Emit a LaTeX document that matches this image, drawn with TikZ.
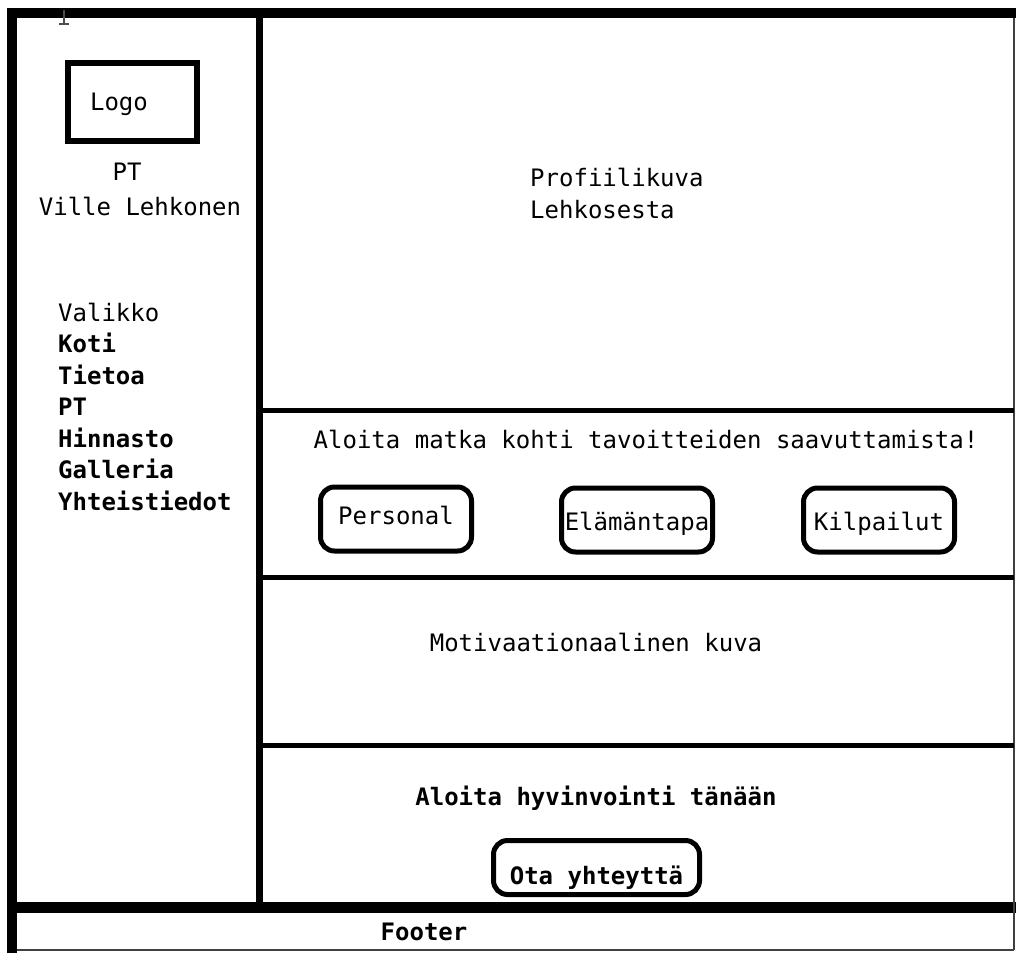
\documentclass[tikz,border=0pt]{standalone}
\usepackage{fontspec}
\setmainfont{DejaVu Sans Mono}
\newcommand{\sitefont}{\fontsize{24}{31.5}\selectfont}

\begin{document}
\begin{tikzpicture}[x=1pt, y=-1pt,
    every node/.style={font=\sitefont, inner sep=0pt, anchor=base},
    frame/.style={line width=10pt},
    thin frame/.style={line width=1.5pt, black!75},
    panel/.style={line width=5pt},
    logobox/.style={draw, line width=6pt, minimum width=129pt, minimum height=78pt, anchor=center},
    button/.style={draw, line width=5pt, rounded corners=14pt, minimum width=151pt,
      minimum height=64pt, anchor=center, text height=26pt, text depth=5pt},
    menuitem/.style={anchor=base west, font=\sitefont\bfseries}]
  \useasboundingbox (0,0) rectangle (1016,953);

  % page frame
  \draw[frame] (7,13) -- (1016,13);
  \draw[frame] (12,8) -- (12,953);
  \draw[line width=11pt] (7,907.5) -- (1016,907.5);
  \draw[thin frame] (1014,18) -- (1014,950);
  \draw[thin frame] (17,950) -- (1014,950);
  % sidebar and content panels
  \draw[line width=7pt] (259.5,18) -- (259.5,902);
  \foreach \y in {410,577,745}
    \draw[panel] (263,\y) -- (1014,\y);
  % text cursor
  \draw[black!70, line width=1.5pt] (64,10) -- (64,24) (59,24) -- (69,24);

  % sidebar
  \node[logobox] (logo) at (132.5,102) {};
  \node (logotext) at (119,110) {Logo};
  \node (pt) at (127,180) {PT};
  \node (name) at (140,215) {Ville Lehkonen};
  \node[anchor=base west] (menu) at (58,321) {Valikko};
  \foreach \item [count=\i] in {Koti,Tietoa,PT,Hinnasto,Galleria,Yhteistiedot}
    \node[menuitem] (menu\i) at (58,321+31.5*\i) {\item};

  % content
  \node[anchor=base west] (profile) at (530,186) {Profiilikuva};
  \node[anchor=base west] (profile2) at (530,218) {Lehkosesta};
  \node (slogan) at (646,448) {Aloita matka kohti tavoitteiden saavuttamista!};
  \node[button, text height=16pt] (personal) at (396,519) {Personal};
  \node[button] (lifestyle) at (637,520) {Elämäntapa};
  \node[button] (contests) at (879,520) {Kilpailut};
  \node (motivation) at (596,651) {Motivaationaalinen kuva};
  \node[font=\sitefont\bfseries] (start) at (596,805) {Aloita hyvinvointi tänään};
  \node[button, font=\sitefont\bfseries, minimum width=206pt, minimum height=54pt,
    text height=36pt, text depth=2pt] (contact) at (596.5,867.5) {Ota yhteyttä};
  \node[font=\sitefont\bfseries] (footer) at (424,940) {Footer};
\end{tikzpicture}
\end{document}
